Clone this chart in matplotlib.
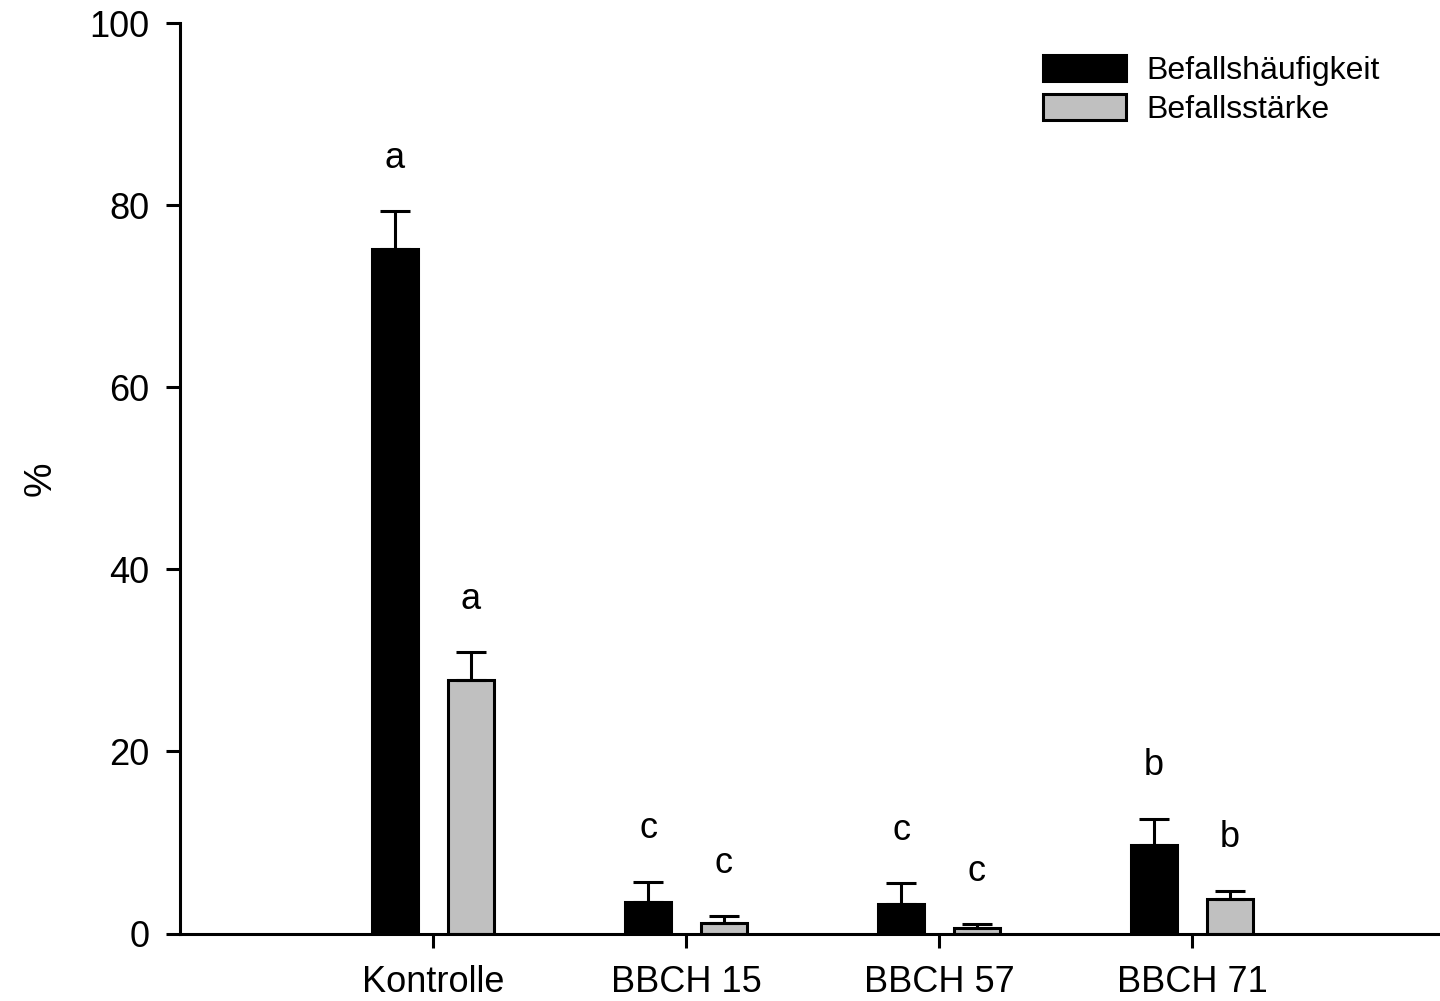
import numpy as np
import matplotlib.pyplot as plt

plt.rcParams['font.family'] = ['Liberation Sans', 'DejaVu Sans']

# Daten
categories = ['Kontrolle', 'BBCH 15', 'BBCH 57', 'BBCH 71']
haeufigkeit = [75.2, 3.5, 3.2, 9.7]
haeufigkeit_err = [4.1, 2.2, 2.3, 2.9]
staerke = [27.8, 1.2, 0.66, 3.8]
staerke_err = [3.1, 0.7, 0.4, 0.9]
letters_h = ['a', 'c', 'c', 'b']
letters_s = ['a', 'c', 'c', 'b']

x = np.arange(1, len(categories) + 1)
width = 0.18
offset = 0.15

fig = plt.figure(figsize=(14.4, 10.01), dpi=100)
ax = fig.add_axes([0.125, 0.0674, 0.875, 0.9096])

err_kw = dict(elinewidth=2.2, capthick=2.2, ecolor='black')
ax.bar(x - offset, haeufigkeit, width, color='black', edgecolor='black', linewidth=2.2,
       yerr=[np.zeros(len(x)), haeufigkeit_err], capsize=10.5, error_kw=err_kw,
       label='Befallshäufigkeit', zorder=2)
ax.bar(x + offset, staerke, width, color='#c0c0c0', edgecolor='black', linewidth=2.2,
       yerr=[np.zeros(len(x)), staerke_err], capsize=10.5, error_kw=err_kw,
       label='Befallsstärke', zorder=2)

# Buchstaben über den Fehlerbalken
for xi, v, e, t in zip(x - offset, haeufigkeit, haeufigkeit_err, letters_h):
    ax.text(xi, v + e + 5.8, t, ha='center', va='center', fontsize=26)
for xi, v, e, t in zip(x + offset, staerke, staerke_err, letters_s):
    ax.text(xi, v + e + 5.8, t, ha='center', va='center', fontsize=26)

ax.set_xlim(0, 4.98)
ax.set_ylim(0, 100)
ax.set_yticks([0, 20, 40, 60, 80, 100])
ax.set_xticks(x)
ax.set_xticklabels(categories)
ax.set_ylabel('%', fontsize=28, labelpad=22)

for s in ['top', 'right']:
    ax.spines[s].set_visible(False)
for s in ['left', 'bottom']:
    ax.spines[s].set_linewidth(2.2)
ax.tick_params(axis='both', labelsize=26, width=2.2, length=10, direction='out')
ax.tick_params(axis='y', pad=12)
ax.tick_params(axis='x', pad=12.5)

fig.legend(loc='upper left', bbox_to_anchor=(1043 / 1440, 1 - 55 / 1001),
           frameon=False, fontsize=23, handlelength=2.6, handleheight=0.875,
           handletextpad=0.65, labelspacing=0.25, borderpad=0, borderaxespad=0)

plt.savefig('out.png', dpi=100)
plt.close()
